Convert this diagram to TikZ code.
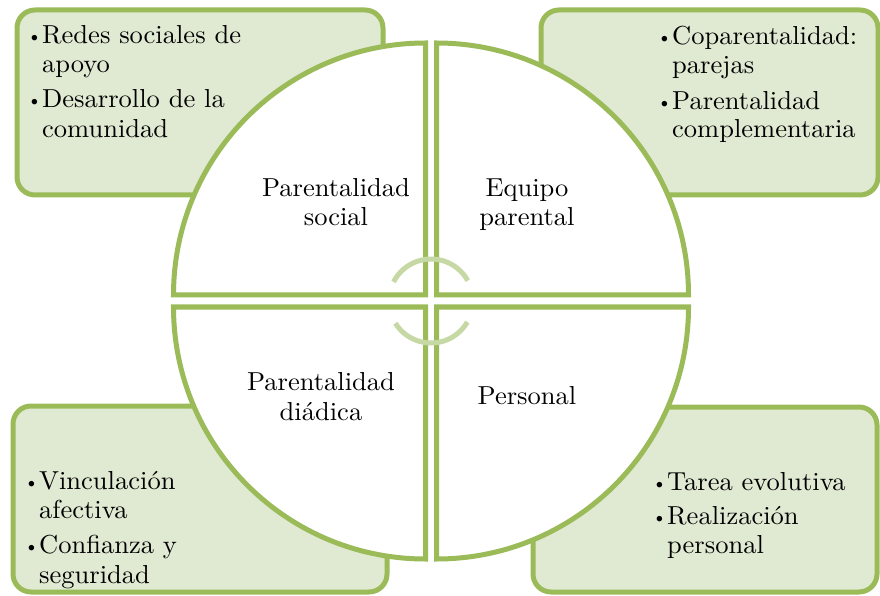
\documentclass[tikz,border=0pt]{standalone}
\usepackage{fontspec}
\setmainfont{lmroman10-regular.otf}[FakeStretch=1.02]
\newfontfamily\bulfont{lmroman10-regular.otf}
\usetikzlibrary{arrows.meta}
\definecolor{ogreen}{HTML}{9BBB59}
\definecolor{boxfill}{HTML}{E0E9D2}
\definecolor{arrgreen}{HTML}{C6D9A4}
\newcommand{\bl}{\makebox[15pt][l]{\raisebox{1pt}{\bulfont\fontsize{19}{19}\selectfont\textbullet}}}
\begin{document}
\begin{tikzpicture}[x=1pt,y=1pt,
  every node/.style={font=\fontsize{26}{30}\selectfont, inner sep=0pt},
  sidebox/.style={draw=ogreen, fill=boxfill, line width=5pt, rounded corners=18pt},
  quad/.style={draw=ogreen, fill=white, line width=5pt},
  cyc/.style={draw=arrgreen, line width=5pt},
  ln/.style={anchor=base west},
  cl/.style={anchor=base}]
\useasboundingbox (0,0) rectangle (880,595);
% side boxes
\path[sidebox] (17,400) rectangle (383,585);
\path[sidebox] (541,400) rectangle (878,585);
\path[sidebox] (13,3) rectangle (387,189);
\path[sidebox] (533,3) rectangle (877,188);
% quadrants
\path[quad] (425.5,300) -- (173.5,300) arc[start angle=180, end angle=90, radius=252] -- cycle;
\path[quad] (436.5,300) -- (436.5,552) arc[start angle=90, end angle=0, radius=252] -- cycle;
\path[quad] (425.5,288) -- (425.5,36) arc[start angle=270, end angle=180, radius=252] -- cycle;
\path[quad] (436.5,288) -- (688.5,288) arc[start angle=0, end angle=-90, radius=252] -- cycle;
% center cycle arcs
\coordinate (cc) at (431,294);
\path[cyc] ([shift={(153:42)}]cc) arc[start angle=153, end angle=29, radius=42];
\path[cyc] ([shift={(212:42)}]cc) arc[start angle=212, end angle=330, radius=42];
% quadrant labels
\node[cl] (q1a) at (336,398) {Parentalidad};
\node[cl] (q1b) at (336,369) {social};
\node[cl] (q2a) at (527,398) {Equipo};
\node[cl] (q2b) at (527,369) {parental};
\node[cl] (q3a) at (321,205) {Parentalidad};
\node[cl] (q3b) at (321,175) {diádica};
\node[cl] (q4a) at (527,191) {Personal};
% top-left box
\node[ln] (tl1) at (27,551) {\bl Redes sociales de};
\node[ln] (tl2) at (42,522) {apoyo};
\node[ln] (tl3) at (27,487) {\bl Desarrollo de la};
\node[ln] (tl4) at (42,457) {comunidad};
% top-right box
\node[ln] (tr1) at (657,550) {\bl Coparentalidad:};
\node[ln] (tr2) at (672,521) {parejas};
\node[ln] (tr3) at (657,485) {\bl Parentalidad};
\node[ln] (tr4) at (672,457) {complementaria};
% bottom-left box
\node[ln] (bl1) at (24,106) {\bl Vinculación};
\node[ln] (bl2) at (39,77) {afectiva};
\node[ln] (bl3) at (24,42) {\bl Confianza y};
\node[ln] (bl4) at (39,12) {seguridad};
% bottom-right box
\node[ln] (br1) at (652,105) {\bl Tarea evolutiva};
\node[ln] (br2) at (652,71) {\bl Realización};
\node[ln] (br3) at (667,42) {personal};
\end{tikzpicture}
\end{document}
